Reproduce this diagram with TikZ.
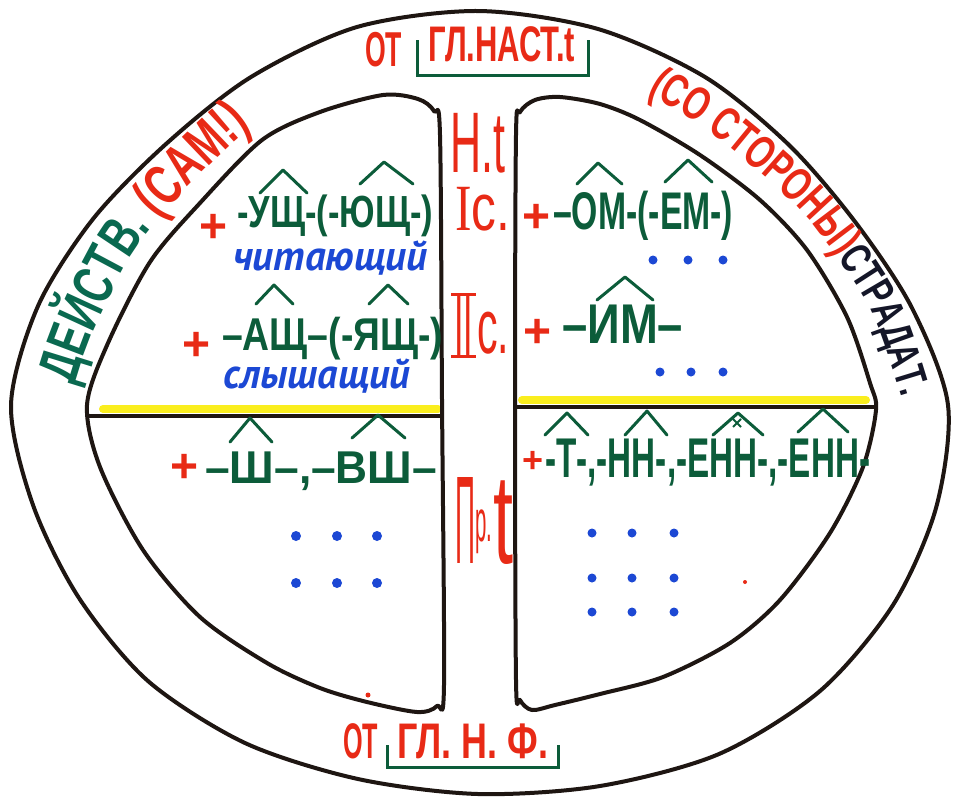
\documentclass[tikz,border=0pt]{standalone}
\usepackage{fontspec}
\usepackage{graphicx}
\setmainfont{Liberation Sans}
\newfontfamily\serfont{Liberation Serif}
\newfontfamily\arcfont[FakeStretch=0.7]{Liberation Sans Bold}
\newfontfamily\cursfont{PT Sans}
\usetikzlibrary{decorations.text}
\definecolor{outl}{RGB}{30,22,18}
\definecolor{tred}{RGB}{232,42,22}
\definecolor{dgreen}{RGB}{12,92,58}
\definecolor{tgreen}{RGB}{10,105,80}
\definecolor{tblue}{RGB}{28,72,212}
\definecolor{tyellow}{RGB}{250,238,30}
\definecolor{tnavy}{RGB}{20,22,40}
\newcommand\fitx[3]{{\fontsize{#2}{#2}\selectfont\resizebox{#1}{\height}{#3}}}
\begin{document}
\begin{tikzpicture}[x=1pt,y=-1pt,
  outline/.style={draw=outl, line width=4, line join=round},
  gtext/.style={text=dgreen, inner sep=0, anchor=base west, font=\bfseries},
  rtext/.style={text=tred, inner sep=0, anchor=base west},
  btext/.style={text=tblue, inner sep=0, anchor=base west},
  plusmk/.style={text=tred, inner sep=0, font=\fontsize{48}{48}\selectfont\bfseries},
  roof/.style={draw=dgreen, line width=3, line join=round, line cap=round},
  bracket/.style={draw=dgreen, line width=3},
  dotb/.style={fill=tblue},
  band/.style={line width=8, draw=tyellow, line cap=round}]
\useasboundingbox (0,0) rectangle (953,801);
\fill[white] (0,0) rectangle (953,801);

% outer shape
\draw[outline] plot[smooth cycle] coordinates {
 (948,405) (936,508) (893,605) (820,691) (719,754) (600,786) (478,794) (358,779)
 (245,743) (148,681) (79,598) (33,505) (11,405) (38,306) (93,219) (166,144)
 (251,77) (357,27) (478,11) (598,29) (705,77) (789,145) (856,223) (912,308)};

% yellow strips and dividing lines
\draw[band] (103,409) -- (438,409);
\draw[band] (522,400) -- (866,400);
\draw[outline] (88,416) -- (442,416);
\draw[outline] (515,407) -- (876,407);

% left inner shape
\draw[outline] plot[smooth cycle, tension=0.5] coordinates {
 (383,95) (418,99) (434,111) (440,135) (442,400) (444,685) (437,706) (417,712)
 (367,702) (320,688) (267,663) (200,617) (143,550) (100,467) (87,405) (108,343)
 (150,262) (200,203) (262,140) (320,112)};
% right inner shape
\draw[outline] plot[smooth cycle, tension=0.5] coordinates {
 (516,135) (520,112) (535,100) (560,97) (600,104) (640,120) (700,155) (760,200)
 (807,250) (847,317) (870,383) (876,410) (863,467) (830,533) (780,600) (730,643)
 (663,677) (600,694) (555,705) (532,710) (520,700) (516,680) (515,400)};

% arc texts
\path[decorate, decoration={text along path, text align={left indent=16pt},
  text={|\arcfont\fontsize{57}{57}\selectfont\color{tgreen}|ДЕЙСТВ. |\arcfont\fontsize{57}{57}\selectfont\color{tred}|(САМ!)}}]
  plot[smooth] coordinates {(70,401) (90,339) (134,251) (185,190) (252,127) (315,95) (382,76) (440,70)};
\path[decorate, decoration={text along path, text align={left indent=6pt},
  text={|\arcfont\fontsize{47}{47}\selectfont\color{tred}|(СО СТОРОНЫ)|\arcfont\fontsize{44}{44}\selectfont\color{tnavy}|СТРАДАТ.}}]
  plot[smooth] coordinates {(642,90) (713,134) (785,195) (823,237) (871,310) (897,382) (904,417) (891,473) (868,530)};

% top label
\node[rtext, font=\bfseries] (ot1) at (365,66) {\fitx{37pt}{49pt}{ОТ}};
\node[rtext, font=\bfseries] (gl1) at (428,61) {\fitx{147pt}{50pt}{ГЛ.НАСТ.t}};
\draw[bracket] (417,40) -- (417,75) -- (588,75) -- (588,40);
% bottom label
\node[rtext, font=\bfseries] (ot2) at (343,758) {\fitx{35pt}{50pt}{ОТ}};
\node[rtext, font=\bfseries] (gl2) at (397,758) {\fitx{151pt}{50pt}{ГЛ. Н. Ф.}};
\draw[bracket] (387,745) -- (387,767) -- (558,767) -- (558,745);

% column
\node[rtext] (nt) at (450,172) {\fitx{55pt}{86pt}{Н.t}};
\node[rtext] (i1) at (455,230) {\fontsize{66}{66}\selectfont\resizebox{55pt}{\height}{{\serfont I}с.}};
\node[rtext] (i2a) at (454,356) {\fitx{19pt}{88pt}{II}};
\draw[tred, line width=3] (451,294) -- (476,294);
\draw[tred, line width=3] (451,356) -- (476,356);
\node[rtext] (i2b) at (477,353) {\fitx{32pt}{77pt}{с.}};
\node[rtext] (pr1) at (455,563) {\fitx{20pt}{125pt}{П}};
\node[rtext] (pr2) at (475,541) {\fitx{17pt}{59pt}{р.}};
\node[rtext] (pr3) at (493,563) {\fitx{20pt}{128pt}{t}};

% left upper
\node[plusmk] (p1) at (214,228) {+};
\node[gtext] (l1) at (237,227) {\fitx{196pt}{45pt}{-УЩ-(-ЮЩ-)}};
\draw[roof] (260,193) -- (283,170) -- (307,193);
\draw[roof] (360,184) -- (384,162) -- (413,184);
\node[btext] (b1) at (233,270) {\cursfont\bfseries\itshape\fitx{194pt}{42pt}{читающий}};
\node[plusmk] (p2) at (197,346) {+};
\node[gtext] (l2) at (222,350) {\fitx{221pt}{46pt}{–АЩ–(-ЯЩ-)}};
\draw[roof] (256,304) -- (274,285) -- (293,304);
\draw[roof] (369,304) -- (388,285) -- (408,304);
\node[btext] (b2) at (223,388) {\cursfont\bfseries\itshape\fitx{187pt}{42pt}{слышащий}};

% right upper
\node[plusmk] (p3) at (537,218) {+};
\node[gtext] (r1) at (553,229) {\fitx{180pt}{53pt}{–ОМ-(-ЕМ-)}};
\draw[roof] (577,184) -- (598,163) -- (622,184);
\draw[roof] (665,182) -- (688,160) -- (712,182);
\foreach \x in {653,688,723} \fill[dotb] (\x,260) circle (4.5);
\node[plusmk] (p4) at (538,333) {+};
\node[gtext] (r2) at (562,343) {\fitx{121pt}{56pt}{–ИМ–}};
\draw[roof] (597,300) -- (625,277) -- (653,300);
\foreach \x in {660,691,723} \fill[dotb] (\x,372) circle (4.5);

% left lower
\node[plusmk] (p5) at (185,468) {+};
\node[gtext] (bl) at (205,483) {\fitx{232pt}{46pt}{–Ш–,–ВШ–}};
\draw[roof] (230,442) -- (250,418) -- (272,442);
\draw[roof] (352,438) -- (378,415) -- (405,438);
\foreach \y in {536,583} \foreach \x in {296,337,377} \fill[dotb] (\x,\y) circle (5);

% right lower
\node[plusmk, font=\fontsize{36}{36}\selectfont\bfseries] (p6) at (533,462) {+};
\node[gtext] (br) at (545,477) {\fitx{325pt}{56pt}{-Т-,-НН-,-ЕНН-,-ЕНН-}};
\draw[roof] (545,435) -- (567,413) -- (588,435);
\draw[roof] (625,435) -- (647,411) -- (667,435);
\draw[roof] (713,435) -- (738,413) -- (763,435);
\draw[roof] (798,432) -- (823,409) -- (848,432);
\draw[dgreen, line width=2] (733,419) -- (741,427) (741,419) -- (733,427);
\foreach \y in {533,578,612} \foreach \x in {592,632,674} \fill[dotb] (\x,\y) circle (4.5);
\fill[tred] (745,582) circle (2);
\fill[tred] (368,695) circle (2.5);
\end{tikzpicture}
\end{document}
